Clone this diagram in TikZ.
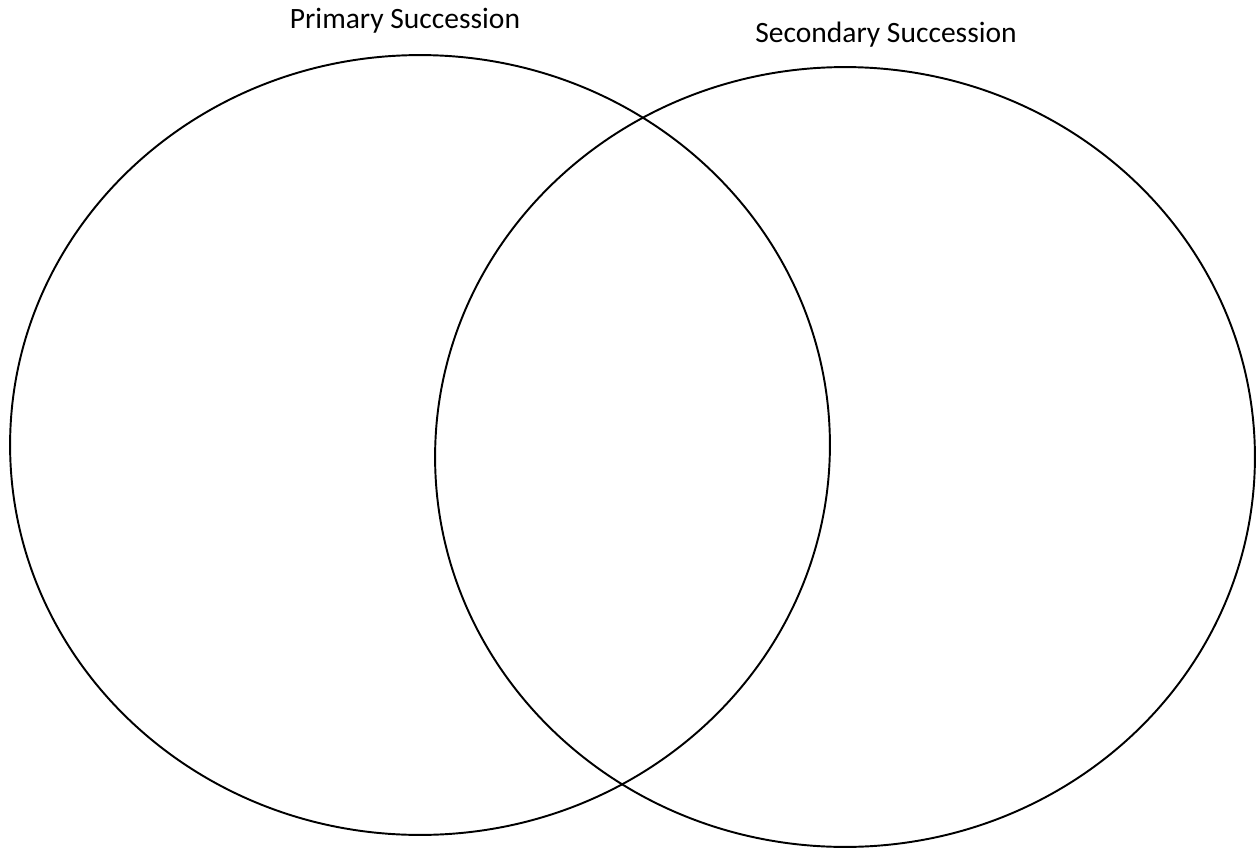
\documentclass[tikz,border=0pt]{standalone}
\usepackage{fontspec}
\setmainfont{Carlito}
\usetikzlibrary{shapes.geometric}

\tikzset{
  setring/.style={draw, thick, ellipse, line width=1.1pt, inner sep=0pt,
    minimum width=16.4cm, minimum height=15.6cm},
  settitle/.style={font=\fontsize{16.8}{19}\selectfont}
}

\begin{document}
\begin{tikzpicture}[x=0.02cm, y=-0.02cm]
      \useasboundingbox (0,0) rectangle (1256,848);

      % Rings
      \node[setring] (primary) at (420,445) {};
      \node[setring] (secondary) at (845,457) {};

      % Titles
      \node[settitle] (primarytitle) at (405,21) {Primary Succession};
      \node[settitle] (secondarytitle) at (886,35) {Secondary Succession};
    \end{tikzpicture}
\end{document}
